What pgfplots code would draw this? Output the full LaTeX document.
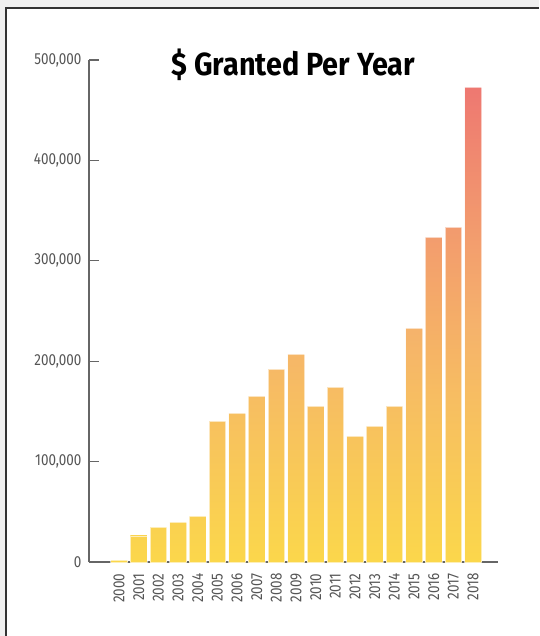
\documentclass[border=0pt]{standalone}
\usepackage{pgfplots}
\pgfplotsset{compat=1.18}
\usepackage{fontspec}
\setmainfont{Fira Sans}[FakeStretch=0.84]
\newfontfamily\titlefont{Fira Sans}[FakeStretch=0.9]
\definecolor{cY}{HTML}{FBD74B}
\definecolor{cO}{HTML}{F5B26C}
\definecolor{cR}{HTML}{EE7871}
\definecolor{axgray}{HTML}{666666}
\definecolor{labgray}{HTML}{555555}
\definecolor{bggray}{HTML}{F0F0F0}
\definecolor{framec}{HTML}{333333}
\pgfplotsset{
  barsty/.style={ybar, bar width=16.5pt, bar shift=0pt, draw=white, draw opacity=0.6, line width=0.8pt, bottom color=cY},
}
\begin{document}
\begin{tikzpicture}
\useasboundingbox (0,0) rectangle (539pt,-636pt);
\fill[bggray] (0,0) rectangle (539pt,-636pt);
\fill[white] (6.3pt,-8pt) rectangle (539pt,-636pt);
\draw[framec, line width=2pt] (6.3pt,-636pt) -- (6.3pt,-8pt) -- (539pt,-8pt);
\begin{axis}[
  at={(89pt,-562pt)}, anchor=south west,
  scale only axis, width=409pt, height=502pt,
  xmin=-1.53, xmax=19.27, ymin=0, ymax=500000,
  axis x line*=bottom, axis y line*=left,
  axis line style={draw=axgray, line width=1.3pt},
  xtick={0,...,18},
  xticklabels={2000,2001,2002,2003,2004,2005,2006,2007,2008,2009,2010,2011,2012,2013,2014,2015,2016,2017,2018},
  x tick label style={rotate=90, anchor=east},
  xticklabel shift=8pt,
  major x tick style={draw=none},
  ytick={0,100000,200000,300000,400000,500000},
  yticklabels={0,{100,000},{200,000},{300,000},{400,000},{500,000}},
  scaled y ticks=false,
  tick align=inside, major tick length=10pt,
  major y tick style={draw=axgray, line width=1.3pt},
  yticklabel shift=4pt,
  tick label style={font=\fontsize{16}{16}\selectfont, text=labgray},
  title={\$ Granted Per Year},
  title style={at={(0.5,0.978)}, anchor=center, font=\titlefont\fontsize{32}{32}\selectfont\bfseries, text=black},
  clip=false,
]
\addplot[barsty, top color=cO!1!cY, middle color=cY] coordinates {(0,1500)};
\addplot[barsty, top color=cO!11!cY, middle color=cO!5.5!cY] coordinates {(1,26000)};
\addplot[barsty, top color=cO!14.4!cY, middle color=cO!7.2!cY] coordinates {(2,34000)};
\addplot[barsty, top color=cO!16.5!cY, middle color=cO!8.2!cY] coordinates {(3,39000)};
\addplot[barsty, top color=cO!19!cY, middle color=cO!9.5!cY] coordinates {(4,45000)};
\addplot[barsty, top color=cO!59.2!cY, middle color=cO!29.6!cY] coordinates {(5,140000)};
\addplot[barsty, top color=cO!62.6!cY, middle color=cO!31.3!cY] coordinates {(6,148000)};
\addplot[barsty, top color=cO!69.8!cY, middle color=cO!34.9!cY] coordinates {(7,165000)};
\addplot[barsty, top color=cO!81.2!cY, middle color=cO!40.6!cY] coordinates {(8,192000)};
\addplot[barsty, top color=cO!87.5!cY, middle color=cO!43.8!cY] coordinates {(9,207000)};
\addplot[barsty, top color=cO!65.5!cY, middle color=cO!32.8!cY] coordinates {(10,155000)};
\addplot[barsty, top color=cO!73.6!cY, middle color=cO!36.8!cY] coordinates {(11,174000)};
\addplot[barsty, top color=cO!52.9!cY, middle color=cO!26.4!cY] coordinates {(12,125000)};
\addplot[barsty, top color=cO!57.1!cY, middle color=cO!28.5!cY] coordinates {(13,135000)};
\addplot[barsty, top color=cO!65.5!cY, middle color=cO!32.8!cY] coordinates {(14,155000)};
\addplot[barsty, top color=cO!98.5!cY, middle color=cO!49.3!cY] coordinates {(15,233000)};
\addplot[barsty, top color=cR!37!cO, middle color=cO!68!cY] coordinates {(16,323000)};
\addplot[barsty, top color=cR!41!cO, middle color=cO!70!cY] coordinates {(17,333000)};
\addplot[barsty, top color=cR, middle color=cO] coordinates {(18,473000)};
\end{axis}
\end{tikzpicture}
\end{document}
